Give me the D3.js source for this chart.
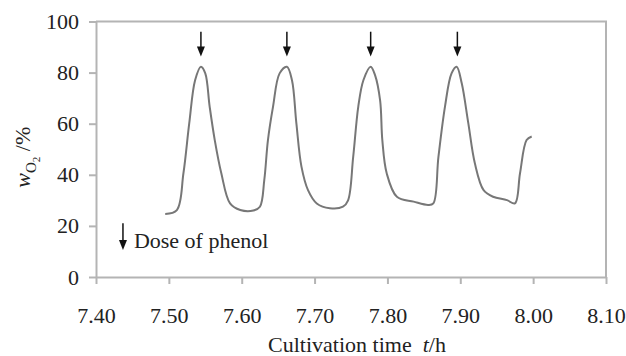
<!DOCTYPE html>
<html>
<head>
<meta charset="utf-8">
<script src="https://cdn.jsdelivr.net/npm/d3@7"></script>
<style>
  html, body { margin: 0; padding: 0; background: #fff; }
  svg text { font-family: 'Liberation Serif', Tinos, 'DejaVu Serif', 'Noto Serif', serif !important; }
</style>
</head>
<body>
<div id="chart"></div>
<script>
// Cultivation time (h)
const times = [
  7.495, 7.511, 7.520, 7.528, 7.536, 7.544, 7.550, 7.556, 7.563, 7.572, 7.584, 7.598, 7.616, 7.625,
  7.631, 7.636, 7.643, 7.652, 7.662, 7.669, 7.675, 7.682, 7.691, 7.703, 7.721, 7.739, 7.746,
  7.753, 7.760, 7.767, 7.777, 7.783, 7.790, 7.793, 7.799, 7.813, 7.836, 7.856, 7.863,
  7.870, 7.879, 7.888, 7.895, 7.902, 7.911, 7.920, 7.932, 7.945, 7.964, 7.975,
  7.982, 7.991, 7.998
];
// dissolved oxygen w(O2) (%)
const oxygen = [
  24.7, 26.2, 40.6, 60.2, 77.0, 82.3, 79.7, 66.7, 53.6, 40.6, 28.8, 26.2, 26.0, 27.5,
  38.0, 53.6, 66.7, 79.7, 82.3, 77.0, 60.2, 43.2, 34.0, 28.8, 26.9, 27.5, 30.0,
  47.0, 66.7, 77.0, 82.3, 79.0, 69.0, 53.6, 40.6, 31.4, 29.5, 28.2, 28.8,
  47.0, 66.7, 79.7, 82.3, 75.8, 60.2, 44.5, 34.0, 31.4, 30.1, 28.8,
  40.6, 53.6, 55.0
];
// times at which phenol was dosed
const doseTimes = [7.544, 7.662, 7.777, 7.896];

const xTicks = [7.40, 7.50, 7.60, 7.70, 7.80, 7.90, 8.00, 8.10];
const yTicks = [0, 20, 40, 60, 80, 100];

const width = 626, height = 356;
const margin = { top: 21.5, right: 20, bottom: 79, left: 96 };

const svg = d3.select('#chart')
  .append('svg')
  .attr('width', width)
  .attr('height', height);

const x = d3.scaleLinear()
  .domain([7.40, 8.10])
  .range([margin.left, width - margin.right]);

const y = d3.scaleLinear()
  .domain([0, 100])
  .range([height - margin.bottom, margin.top]);

const axisColor = '#b4b4b4';

// X axis
svg.append('g')
  .attr('transform', 'translate(0,' + (height - margin.bottom) + ')')
  .call(d3.axisBottom(x).tickValues(xTicks).tickFormat(d3.format('.2f'))
    .tickSize(7).tickSizeOuter(0).tickPadding(23));

// Y axis
svg.append('g')
  .attr('transform', 'translate(' + margin.left + ',0)')
  .call(d3.axisLeft(y).tickValues(yTicks).tickSize(7).tickSizeOuter(0).tickPadding(10));

svg.selectAll('.tick text')
  .attr('font-size', 22)
  .attr('fill', '#222');

svg.selectAll('.domain, .tick line')
  .attr('stroke', axisColor)
  .attr('stroke-width', 2);

// top and right frame
svg.append('path')
  .attr('d', 'M' + x(7.40) + ',' + y(100) + 'H' + x(8.10) + 'V' + y(0))
  .attr('fill', 'none')
  .attr('stroke', axisColor)
  .attr('stroke-width', 2);

// curve
const line = d3.line()
  .x((d, i) => x(times[i]))
  .y(d => y(d))
  .curve(d3.curveCatmullRom.alpha(0.5));

svg.append('path')
  .datum(oxygen)
  .attr('d', line)
  .attr('fill', 'none')
  .attr('stroke', '#777')
  .attr('stroke-width', 2);

// dose arrows
function arrow(t, top, tip) {
  const g = svg.append('g');
  g.append('line')
    .attr('x1', x(t)).attr('x2', x(t))
    .attr('y1', y(top)).attr('y2', y(tip) - 6)
    .attr('stroke', '#111')
    .attr('stroke-width', 1.5);
  g.append('path')
    .attr('d', 'M' + (x(t) - 4) + ',' + (y(tip) - 10) + 'L' + (x(t) + 4) + ',' + (y(tip) - 10) +
      'L' + x(t) + ',' + y(tip) + 'Z')
    .attr('fill', '#111');
}
doseTimes.forEach(t => arrow(t, 96, 86.3));

// legend
arrow(7.437, 21, 10.6);
svg.append('text')
  .attr('x', x(7.452))
  .attr('y', y(11.3))
  .attr('font-size', 22)
  .attr('fill', '#222')
  .text('Dose of phenol');

// axis titles
const xt = svg.append('text')
  .attr('x', (x(7.40) + x(8.10)) / 2 + 6)
  .attr('y', 352)
  .attr('text-anchor', 'middle')
  .attr('font-size', 22)
  .attr('fill', '#222');
xt.append('tspan').text('Cultivation time\u00a0\u00a0');
xt.append('tspan').attr('font-style', 'italic').text('t');
xt.append('tspan').text('/h');

const yt = svg.append('text')
  .attr('transform', 'translate(30,' + ((y(0) + y(100)) / 2 + 8) + ') rotate(-90)')
  .attr('text-anchor', 'middle')
  .attr('font-size', 22)
  .attr('fill', '#222');
yt.append('tspan').attr('font-style', 'italic').text('w');
yt.append('tspan').attr('dy', 6).attr('font-size', 15).text('O');
yt.append('tspan').attr('dy', 4).attr('font-size', 11).text('2');
yt.append('tspan').attr('dy', -10).text('\u00a0/%');
</script>
</body>
</html>
